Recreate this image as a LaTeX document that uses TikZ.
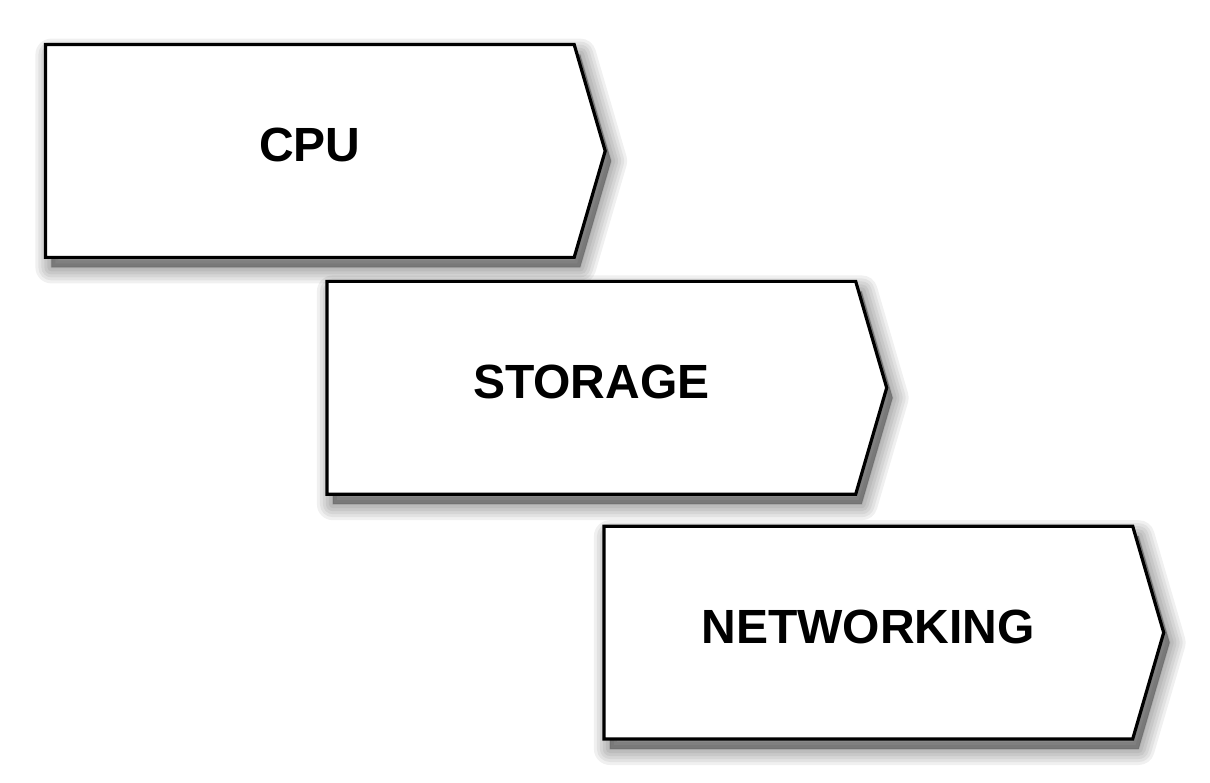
\documentclass[tikz,border=0pt]{standalone}
\usepackage{fontspec}
\setmainfont{Liberation Sans}
\usetikzlibrary{positioning, calc, backgrounds}

\newcommand{\stagepath}[1]{(#1.north west) -- (#1.north east) -- ($(#1.east)+(15.5pt,0)$) -- (#1.south east) -- (#1.south west) -- cycle}

\begin{document}
\begin{tikzpicture}[
    stage/.style={rectangle, minimum width=264pt, minimum height=106pt, inner sep=0pt,
      text depth=6pt, font=\fontsize{24}{28}\selectfont\bfseries},
    outline/.style={draw=black, fill=white, line width=1.6pt, line join=miter},
    haze/.style={draw=black, fill=black, draw opacity=0.06, fill opacity=0.07, line join=round}
  ]
  \useasboundingbox (0,0) rectangle (605pt,391pt);

  % --- etapas ---
  \node[stage] (cpu) at (154.9pt,315.5pt) {CPU};
  \node[stage, below=12pt of cpu, xshift=140.75pt] (storage) {STORAGE};
  \node[stage, below=16pt of storage, xshift=138.5pt] (networking) {NETWORKING};

  % --- sombras y contornos ---
  \begin{pgfonlayer}{background}
    \foreach \n in {cpu, storage, networking} {
      \foreach \w in {16,13,10,7,4,1}
        \draw[haze, line width=\w pt, transform canvas={xshift=3pt, yshift=-5pt}] \stagepath{\n};
      \draw[outline] \stagepath{\n};
    }
  \end{pgfonlayer}
\end{tikzpicture}
\end{document}
